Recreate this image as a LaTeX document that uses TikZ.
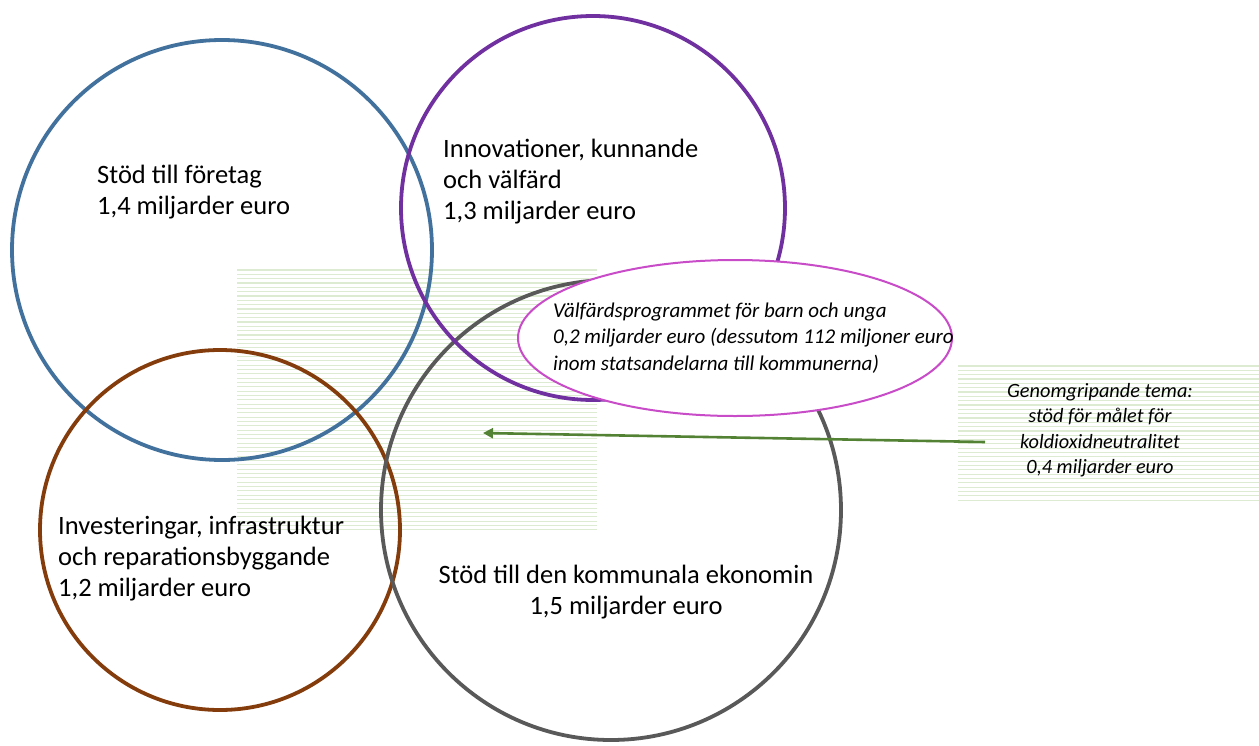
\documentclass[tikz,border=0pt]{standalone}
\usepackage{fontspec}
\setmainfont{Carlito}
\usetikzlibrary{arrows.meta,shapes.geometric}
\definecolor{cblue}{HTML}{41719C}
\definecolor{cpurple}{HTML}{7030A0}
\definecolor{cbrown}{HTML}{843C0C}
\definecolor{cgray}{HTML}{595959}
\definecolor{cpink}{HTML}{C84BC8}
\definecolor{carrow}{HTML}{548235}
\definecolor{chatch}{HTML}{DDEBD3}
\tikzset{
  ring/.style={circle, draw, line width=3.8pt, minimum size=#1, inner sep=0pt},
  bigtext/.style={inner sep=0pt, align=left, font=\fontsize{26.5}{31}\selectfont},
  smalltext/.style={inner sep=0pt, font=\itshape\fontsize{21}{26.5}\selectfont},
  hatchline/.style={chatch, line width=1.1pt},
  link/.style={carrow, line width=2.6pt, -{Triangle[length=10pt,width=10pt]}}
}
\begin{document}
\begin{tikzpicture}[x=1pt,y=-1pt]
\useasboundingbox (0,0) rectangle (1259,745);
% hatched areas
\foreach \yy in {270,274.33,...,531} {\draw[hatchline] (237,\yy) -- (597,\yy);}
\foreach \yy in {366,370.33,...,503} {\draw[hatchline] (958,\yy) -- (1259,\yy);}
% circles
\node[ring=420pt, cblue] (blue) at (222,250) {};
\node[ring=360pt, cbrown] (brown) at (220,530) {};
\node[ring=460pt, cgray] (gray) at (611,510) {};
\node[ring=384pt, cpurple] (purple) at (593,208) {};
\node[ellipse, draw=cpink, fill=white, line width=2pt, minimum width=434pt, minimum height=156pt, inner sep=0pt] (pink) at (735,338) {};
% texts
\node[bigtext, anchor=west] (tblue) at (97,192) {Stöd till företag\\1,4 miljarder euro};
\node[bigtext, anchor=west] (tpurple) at (443,182) {Innovationer, kunnande\\och välfärd\\1,3 miljarder euro};
\node[bigtext, anchor=west] (tbrown) at (58,559) {Investeringar, infrastruktur\\och reparationsbyggande\\1,2 miljarder euro};
\node[bigtext, align=center] (tgray) at (626,592) {Stöd till den kommunala ekonomin\\1,5 miljarder euro};
\node[smalltext, align=left, anchor=west] (tpink) at (553,338) {Välfärdsprogrammet för barn och unga\\0,2 miljarder euro (dessutom 112 miljoner euro\\inom statsandelarna till kommunerna)};
\node[smalltext, align=center, font=\itshape\fontsize{20.3}{25.5}\selectfont] (tgreen) at (1100,430) {Genomgripande tema:\\stöd för målet för\\koldioxidneutralitet\\0,4 miljarder euro};
% arrow
\coordinate (astart) at (985,442);
\coordinate (aend) at (483,433);
\draw[link] (astart) -- (aend);
\end{tikzpicture}
\end{document}
